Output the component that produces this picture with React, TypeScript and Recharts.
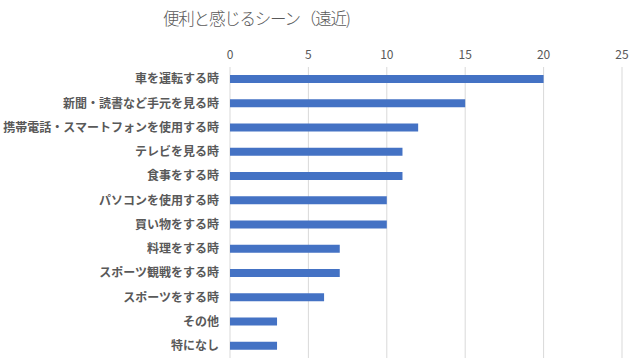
import React from "react";
import { BarChart, Bar, XAxis, YAxis, CartesianGrid } from "recharts";

// シーン（上から順）
const scenes = [
  "車を運転する時",
  "新聞・読書など手元を見る時",
  "携帯電話・スマートフォンを使用する時",
  "テレビを見る時",
  "食事をする時",
  "パソコンを使用する時",
  "買い物をする時",
  "料理をする時",
  "スポーツ観戦をする時",
  "スポーツをする時",
  "その他",
  "特になし",
];
const counts = [20, 15, 12, 11, 11, 10, 10, 7, 7, 6, 3, 3];
const xTicks = [0, 5, 10, 15, 20, 25];

const data = scenes.map((name, i) => ({ name, value: counts[i] }));

const FONT = '"Noto Sans CJK JP", "Noto Sans", sans-serif';
const GRAY = "#595959";

export default function App() {
  return (
    <div style={{ position: "absolute", left: 0, top: 0, width: 636, height: 364, background: "#fff", fontFamily: FONT }}>
      <div
        style={{
          position: "absolute",
          left: 163,
          top: 6,
          fontSize: 16.5,
          fontWeight: 300,
          color: GRAY,
          letterSpacing: -1.2,
          whiteSpace: "nowrap",
        }}
      >
        便利と感じるシーン（遠近)
      </div>
      <BarChart
        width={636}
        height={364}
        data={data}
        layout="vertical"
        margin={{ top: 0, right: 14, bottom: 6, left: 0 }}
        barCategoryGap={0}
      >
        <CartesianGrid horizontal={false} stroke="#d9d9d9" />
        <XAxis
          type="number"
          orientation="top"
          domain={[0, 25]}
          ticks={xTicks}
          height={67}
          axisLine={false}
          tickLine={false}
          tick={{ fill: GRAY, fontSize: 12, fontFamily: FONT }}
        />
        <YAxis
          type="category"
          dataKey="name"
          width={230}
          axisLine={false}
          tickLine={false}
          tickMargin={5}
          interval={0}
          tick={{ fill: GRAY, fontSize: 12, fontWeight: "bold", fontFamily: FONT }}
        />
        <Bar dataKey="value" fill="#4472C4" barSize={8} isAnimationActive={false} />
      </BarChart>
    </div>
  );
}
